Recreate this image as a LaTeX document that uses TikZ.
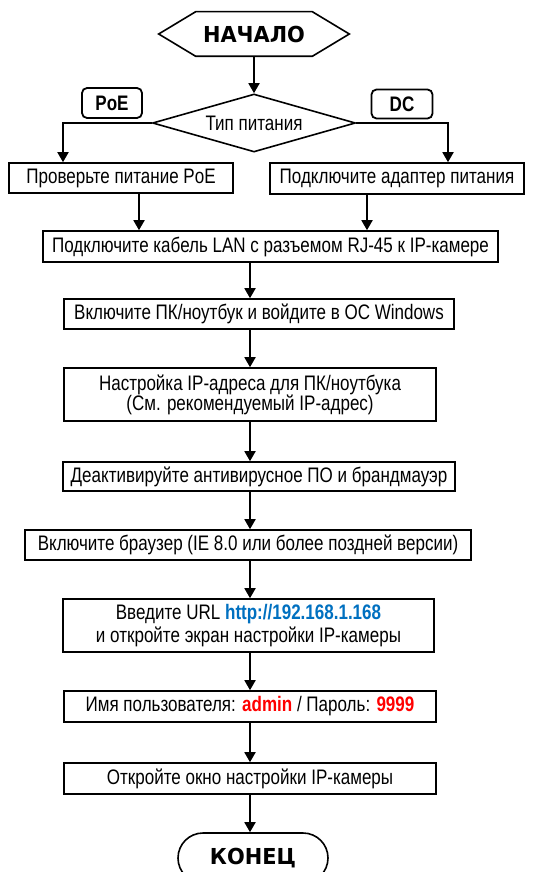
\documentclass[tikz,border=0pt]{standalone}
\usepackage{fontspec}
\setmainfont[FakeStretch=0.81]{Liberation Sans}
\newfontfamily\headfont[FakeStretch=0.95]{DejaVu Sans}
\usetikzlibrary{shapes.geometric,arrows.meta}
\definecolor{urlblue}{RGB}{0,112,192}
\definecolor{pwdred}{RGB}{255,0,0}

\begin{document}
\begin{tikzpicture}[x=1pt, y=-1pt,
    stepbox/.style={draw, line width=1.6pt, inner sep=0pt, align=center,
      font=\fontsize{21pt}{20pt}\selectfont},
    tagbox/.style={draw, line width=1.8pt, rounded corners=5pt, inner sep=0pt,
      font=\fontsize{21pt}{20pt}\selectfont\bfseries},
    endbox/.style={inner sep=0pt, line width=1.6pt,
      font=\headfont\fontsize{22pt}{22pt}\selectfont\bfseries},
    flow/.style={line width=1.8pt, -{Triangle[width=11pt,length=10pt]}}]
    % page
    \useasboundingbox (0,0) rectangle (534,872);
    % main coordinates
    \coordinate (spine)     at (250,0);
    \coordinate (poe-drop)  at (63,0);
    \coordinate (dc-drop)   at (448,0);
    \coordinate (poe-join)  at (139,0);
    \coordinate (dc-join)   at (367,0);
    % start
    \node (start) at (254,34) [endbox, minimum width=115pt, minimum height=43pt]
    {НАЧАЛО};
    \draw [line width=1.6pt]
    (start.north west) -- (start.north east) -- ([xshift=37pt]start.east) --
    (start.south east) -- (start.south west) -- ([xshift=-37pt]start.west) -- cycle;
    % power type
    \node (pwr-type) at (254,123) [diamond, draw, line width=1.6pt, aspect=3.5,
      minimum width=203pt, minimum height=58pt, inner sep=0pt,
      font=\fontsize{21pt}{20pt}\selectfont] {Тип питания};
    \node (tag-poe) at (112,103) [tagbox, minimum width=60pt, minimum height=30pt] {PoE};
    \node (tag-dc)  at (402,104) [tagbox, minimum width=61pt, minimum height=29pt] {DC};
    % power boxes
    \node (chk-poe)  at (121,178)   [stepbox, minimum width=224pt, minimum height=30pt]
    {Проверьте питание PoE};
    \node (conn-dc)  at (397,178.5) [stepbox, minimum width=254pt, minimum height=31pt]
    {Подключите адаптер питания};
    % main steps
    \node (conn-lan) at (270.5,246.5) [stepbox, minimum width=455pt, minimum height=31pt]
    {Подключите кабель LAN с разъемом RJ-45 к IP-камере};
    \node (pc-on)    at (259,314)     [stepbox, minimum width=390pt, minimum height=30pt]
    {Включите ПК/ноутбук и войдите в ОС Windows};
    \node (ip-set)   at (250,394.5)   [stepbox, minimum width=372pt, minimum height=53pt]
    {Настройка IP-адреса для ПК/ноутбука\\(См. рекомендуемый IP-адрес)};
    \node (av-off)   at (259,476.5)   [stepbox, minimum width=392pt, minimum height=29pt]
    {Деактивируйте антивирусное ПО и брандмауэр};
    \node (browser)  at (248,545)     [stepbox, minimum width=446pt, minimum height=30pt]
    {Включите браузер (IE 8.0 или более поздней версии)};
    \node (url)      at (248.5,625.5) [stepbox, minimum width=371pt, minimum height=53pt]
    {Введите URL \textcolor{urlblue}{\bfseries http://192.168.1.168}\\[3pt]
      и откройте экран настройки IP-камеры};
    \node (login)    at (250,706.5)   [stepbox, minimum width=372pt, minimum height=31pt]
    {Имя пользователя: \textcolor{pwdred}{\bfseries admin} / Пароль:
      \textcolor{pwdred}{\bfseries 9999}};
    \node (setup)    at (250,778.5)   [stepbox, minimum width=372pt, minimum height=31pt]
    {Откройте окно настройки IP-камеры};
    % end
    \node (finish) at (253,858) [endbox, draw, rounded corners=25pt,
      minimum width=150pt, minimum height=50pt] {КОНЕЦ};
    % draw arrows
    \draw [flow] (start) -- (pwr-type);
    \draw [flow] (pwr-type.west) -| (poe-drop |- chk-poe.north);
    \draw [flow] (pwr-type.east) -| (dc-drop |- conn-dc.north);
    \draw [flow] (chk-poe.south -| poe-join) -- (conn-lan.north -| poe-join);
    \draw [flow] (conn-dc.south -| dc-join) -- (conn-lan.north -| dc-join);
    \foreach \a/\b in {conn-lan/pc-on, pc-on/ip-set, ip-set/av-off,
      av-off/browser, browser/url, url/login, login/setup}
    \draw [flow] (\a.south -| spine) -- (\b.north -| spine);
    \draw [flow] (setup.south -| spine) -- (finish.north -| spine);
\end{tikzpicture}
\end{document}
